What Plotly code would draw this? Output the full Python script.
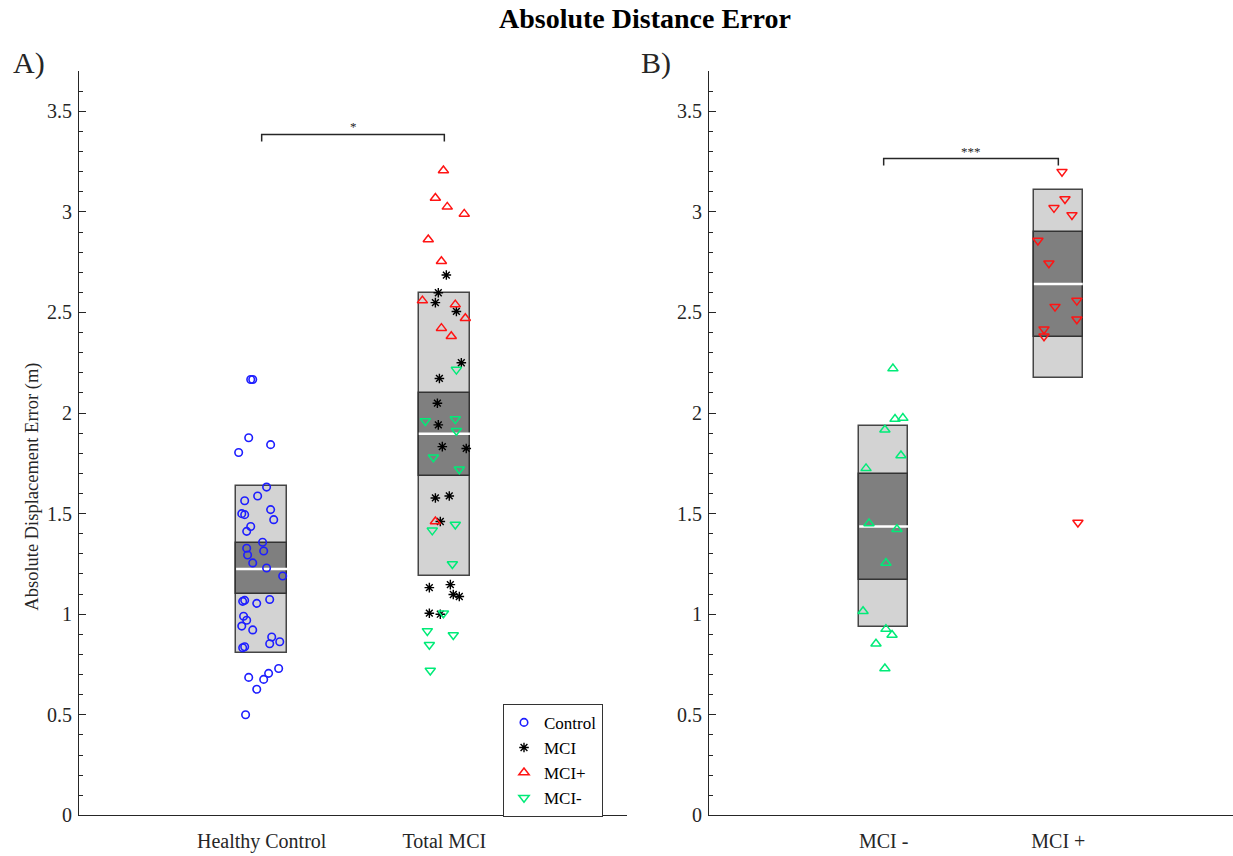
import plotly.graph_objects as go

# ---------------- data ----------------
categories_a = ["Healthy Control", "Total MCI"]
categories_b = ["MCI -", "MCI +"]

# Panel A: Control (category 1)
control_x = [0.940, 0.951, 0.929, 1.049, 0.874, 1.027, 0.907, 0.978, 0.891, 0.907,
             1.049, 1.066, 0.940, 0.918, 1.005, 0.918, 0.923, 1.011, 0.951, 1.027,
             1.115, 0.896, 0.907, 0.973, 1.044, 0.901, 0.918, 0.891, 0.951, 1.055,
             1.044, 1.099, 0.896, 0.907, 1.093, 1.038, 0.929, 1.011, 0.973, 0.912]
control_y = [2.167, 2.167, 1.877, 1.843, 1.804, 1.632, 1.564, 1.588, 1.500, 1.495,
             1.520, 1.470, 1.436, 1.412, 1.358, 1.328, 1.294, 1.314, 1.255, 1.230,
             1.190, 1.064, 1.069, 1.054, 1.073, 0.990, 0.970, 0.941, 0.922, 0.887,
             0.853, 0.863, 0.833, 0.838, 0.730, 0.706, 0.686, 0.676, 0.627, 0.500]

# Panel A: Total MCI (category 2)
mci_x = [2.011, 1.967, 1.951, 2.066, 2.093, 1.973, 1.962, 1.967, 1.989, 2.120,
         1.951, 2.027, 1.978, 1.918, 2.033, 2.049, 2.082, 1.918, 1.978]
mci_y = [2.686, 2.598, 2.549, 2.505, 2.250, 2.172, 2.049, 1.941, 1.833, 1.824,
         1.578, 1.588, 1.461, 1.132, 1.147, 1.098, 1.088, 1.005, 1.000]

mci_plus_a_x = [1.995, 1.951, 2.016, 2.109, 1.912, 1.984, 1.880, 2.060, 2.115, 1.984, 2.038, 1.951]
mci_plus_a_y = [3.206, 3.069, 3.025, 2.990, 2.863, 2.755, 2.559, 2.539, 2.471, 2.422, 2.382, 1.461]

mci_minus_a_x = [2.066, 1.896, 2.060, 2.066, 1.940, 2.082, 2.060, 1.934, 2.044, 1.995,
                 1.907, 2.049, 1.918, 1.923]
mci_minus_a_y = [2.216, 1.961, 1.970, 1.912, 1.780, 1.721, 1.446, 1.417, 1.250, 1.005,
                 0.917, 0.897, 0.848, 0.720]

# Panel B
mci_minus_b_x = [1.053, 1.065, 1.110, 1.007, 1.099, 0.899, 0.916, 1.076, 1.013, 0.882,
                 1.013, 1.048, 0.956, 1.007]
mci_minus_b_y = [2.221, 1.970, 1.975, 1.917, 1.789, 1.725, 1.451, 1.422, 1.255, 1.015,
                 0.926, 0.897, 0.853, 0.730]

mci_plus_b_x = [2.021, 2.038, 1.975, 2.078, 1.883, 1.946, 2.106, 1.981, 2.106, 1.918, 1.918, 2.112]
mci_plus_b_y = [3.200, 3.064, 3.020, 2.985, 2.858, 2.745, 2.559, 2.529, 2.466, 2.417, 2.382, 1.456]

# Box summaries: [outer_low, outer_high], [inner_low, inner_high], centre line
box_pos_a = [1, 2]
outer_low_a = [0.809, 1.191]
outer_high_a = [1.637, 2.598]
inner_low_a = [1.098, 1.686]
inner_high_a = [1.353, 2.098]
centre_a = [1.225, 1.897]

box_pos_b = [1, 2]
outer_low_b = [0.936, 2.176]
outer_high_b = [1.936, 3.108]
inner_low_b = [1.172, 2.377]
inner_high_b = [1.696, 2.902]
centre_b = [1.436, 2.642]

# significance brackets
bracket_a_y = 3.385
bracket_a_label = "*"
bracket_b_y = 3.265
bracket_b_label = "***"

yticks = [0, 0.5, 1, 1.5, 2, 2.5, 3, 3.5]
yticklabels = ["0", "0.5", "1", "1.5", "2", "2.5", "3", "3.5"]

# ---------------- style ----------------
FONT = "Liberation Serif"
AX = "#262626"
BOX_HALF = 0.14
BLUE = "rgb(30,30,255)"
RED = "rgb(255,20,20)"
GREEN = "rgb(0,235,120)"

fig = go.Figure()


def add_boxes(pos, olo, ohi, ilo, ihi, mid, xa, ya):
    fig.add_trace(go.Bar(x=pos, y=[h - l for l, h in zip(olo, ohi)], base=olo,
                         width=2 * BOX_HALF, marker=dict(color="#d3d3d3",
                         line=dict(color="#454545", width=1.5)),
                         showlegend=False, hoverinfo="skip", xaxis=xa, yaxis=ya))
    fig.add_trace(go.Bar(x=pos, y=[h - l for l, h in zip(ilo, ihi)], base=ilo,
                         width=2 * BOX_HALF, marker=dict(color="#7f7f7f",
                         line=dict(color="#333333", width=1.5)),
                         showlegend=False, hoverinfo="skip", xaxis=xa, yaxis=ya))
    for p, m in zip(pos, mid):
        fig.add_trace(go.Scatter(x=[p - BOX_HALF, p + BOX_HALF], y=[m, m], mode="lines",
                                 line=dict(color="white", width=2.5),
                                 showlegend=False, hoverinfo="skip", xaxis=xa, yaxis=ya))


add_boxes(box_pos_a, outer_low_a, outer_high_a, inner_low_a, inner_high_a, centre_a, "x", "y")
add_boxes(box_pos_b, outer_low_b, outer_high_b, inner_low_b, inner_high_b, centre_b, "x2", "y2")

# points panel A
fig.add_trace(go.Scatter(x=control_x, y=control_y, mode="markers", name="Control",
                         marker=dict(symbol="circle-open", size=7.5, color=BLUE,
                                     line=dict(width=1.6)), xaxis="x", yaxis="y"))
fig.add_trace(go.Scatter(x=mci_x, y=mci_y, mode="markers", name="MCI",
                         marker=dict(symbol="asterisk-open", size=8, color="black",
                                     line=dict(width=1.4)), xaxis="x", yaxis="y"))
fig.add_trace(go.Scatter(x=mci_plus_a_x, y=mci_plus_a_y, mode="markers", name="MCI+",
                         marker=dict(symbol="triangle-up-open", size=9, color=RED,
                                     line=dict(width=1.5)), xaxis="x", yaxis="y"))
fig.add_trace(go.Scatter(x=mci_minus_a_x, y=mci_minus_a_y, mode="markers", name="MCI-",
                         marker=dict(symbol="triangle-down-open", size=9, color=GREEN,
                                     line=dict(width=1.5)), xaxis="x", yaxis="y"))
# points panel B
fig.add_trace(go.Scatter(x=mci_minus_b_x, y=mci_minus_b_y, mode="markers", showlegend=False,
                         marker=dict(symbol="triangle-up-open", size=9, color=GREEN,
                                     line=dict(width=1.5)), xaxis="x2", yaxis="y2"))
fig.add_trace(go.Scatter(x=mci_plus_b_x, y=mci_plus_b_y, mode="markers", showlegend=False,
                         marker=dict(symbol="triangle-down-open", size=9, color=RED,
                                     line=dict(width=1.5)), xaxis="x2", yaxis="y2"))

# brackets
for xa, ya, by, lab in [("x", "y", bracket_a_y, bracket_a_label),
                        ("x2", "y2", bracket_b_y, bracket_b_label)]:
    fig.add_trace(go.Scatter(x=[1, 1, 2, 2], y=[by - 0.035, by, by, by - 0.035], mode="lines",
                             line=dict(color=AX, width=1.5), showlegend=False,
                             hoverinfo="skip", xaxis=xa, yaxis=ya))
    fig.add_annotation(x=1.5, y=by, xref=xa, yref=ya, text=lab, showarrow=False,
                       yanchor="bottom", yshift=-2, font=dict(family=FONT, size=13, color=AX))

W, H = 1233, 856
ydom = [1 - 826 / H, 1 - 72 / H]
yaxis_common = dict(range=[0, 3.7], tickvals=yticks, ticktext=yticklabels,
                    ticks="inside", ticklen=7, tickcolor=AX, tickwidth=1,
                    showline=True, linecolor=AX, linewidth=1.2, showgrid=False,
                    zeroline=False, domain=ydom, tickfont=dict(family=FONT, size=20, color=AX),
                    ticklabelstandoff=2,
                    minor=dict(dtick=0.1, ticks="inside", ticklen=4, tickcolor=AX,
                               tick0=0, showgrid=False))
xaxis_common = dict(range=[0, 3], tickmode="array", ticks="", showline=True,
                    linecolor=AX, linewidth=1.2, showgrid=False, zeroline=False,
                    ticklabelstandoff=8,
                    tickfont=dict(family=FONT, size=20, color=AX))

fig.update_layout(
    width=W, height=H,
    margin=dict(l=0, r=0, t=0, b=0),
    plot_bgcolor="white", paper_bgcolor="white",
    barmode="overlay", bargap=0,
    xaxis=dict(domain=[79 / W, 627 / W], tickvals=[1, 2], ticktext=categories_a,
               anchor="y", **xaxis_common),
    xaxis2=dict(domain=[709 / W, 1.0], tickvals=[1, 2], ticktext=categories_b,
                anchor="y2", **xaxis_common),
    yaxis=dict(anchor="x", **yaxis_common),
    yaxis2=dict(anchor="x2", **yaxis_common),
    legend=dict(x=603 / W, xanchor="right", y=1 - 713 / H, yanchor="top",
                bgcolor="white", bordercolor="#333333", borderwidth=1,
                font=dict(family=FONT, size=17, color="black"),
                tracegroupgap=0, itemwidth=30),
    showlegend=True,
)

fig.add_annotation(x=645 / W, y=1 - 19 / H, xref="paper", yref="paper", yanchor="middle",
                   text="<b>Absolute Distance Error</b>", showarrow=False,
                   font=dict(family=FONT, size=28, color="black"))
fig.add_annotation(x=11 / W, y=1 - 64 / H, xref="paper", yref="paper", xanchor="left",
                   yanchor="middle", text="A)", showarrow=False,
                   font=dict(family=FONT, size=30, color=AX))
fig.add_annotation(x=639 / W, y=1 - 64 / H, xref="paper", yref="paper", xanchor="left",
                   yanchor="middle", text="B)", showarrow=False,
                   font=dict(family=FONT, size=30, color=AX))
fig.add_annotation(x=33 / W, y=1 - 493 / H, xref="paper", yref="paper",
                   xanchor="center", yanchor="middle",
                   text="Absolute Displacement Error (m)", textangle=-90, showarrow=False,
                   font=dict(family=FONT, size=18.5, color=AX))

fig.write_html("out.html")
